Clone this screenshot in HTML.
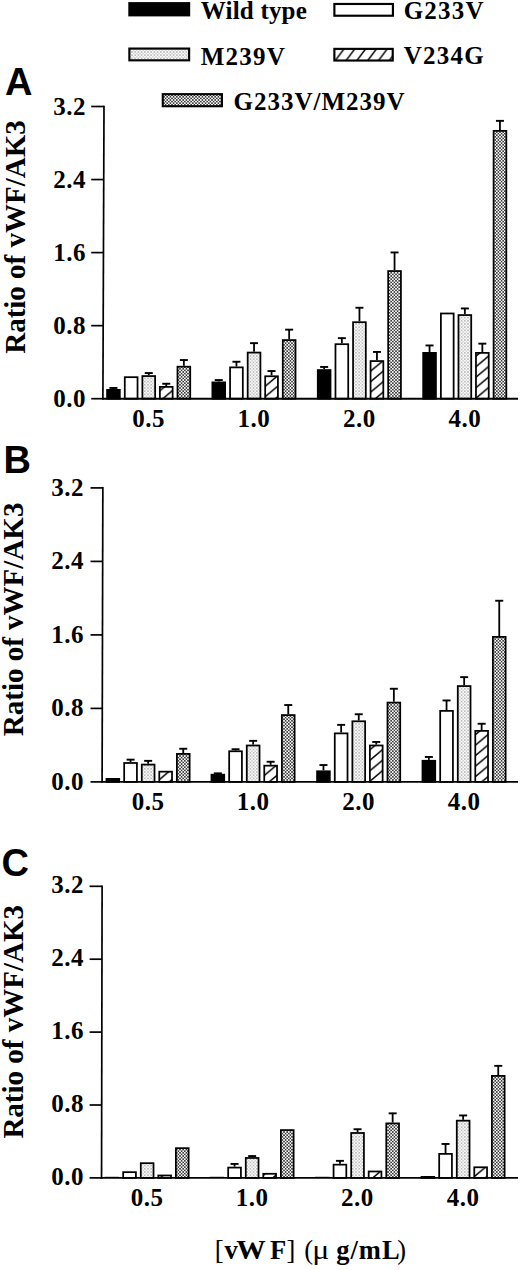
<!DOCTYPE html>
<html><head><meta charset="utf-8"><title>vWF/AK3 ratio chart</title>
<style>html,body{margin:0;padding:0;background:#fff;}body{width:520px;height:1270px;overflow:hidden;}svg{display:block;}</style>
</head><body>
<svg width="520" height="1270" viewBox="0 0 520 1270">
<defs>
<pattern id="dk" width="3.2" height="3.2" patternUnits="userSpaceOnUse">
<rect width="3.2" height="3.2" fill="#fff"/><rect width="1.6" height="1.6" fill="#3c3c3c"/><rect x="1.6" y="1.6" width="1.6" height="1.6" fill="#3c3c3c"/>
</pattern>
<pattern id="lt" width="3.2" height="3.2" patternUnits="userSpaceOnUse">
<rect width="3.2" height="3.2" fill="#fafafa"/><rect width="1.6" height="1.6" fill="#bdbdbd"/><rect x="1.6" y="1.6" width="1.6" height="1.6" fill="#d6d6d6"/>
</pattern>
<pattern id="ht" width="12.5" height="10.5" patternUnits="userSpaceOnUse">
<rect width="12.5" height="10.5" fill="#fff"/><path d="M-12.5,10.5 L12.5,-10.5 M0,10.5 L12.5,0 M0,21 L25,0 M-12.5,21 L12.5,0" stroke="#000" stroke-width="1.5"/>
</pattern>
<pattern id="hl" x="2.7" width="10.8" height="14.4" patternUnits="userSpaceOnUse">
<rect width="10.8" height="14.4" fill="#fff"/><path d="M-10.8,14.4 L10.8,-14.4 M0,14.4 L10.8,0 M0,28.8 L21.6,0 M-10.8,28.8 L10.8,0" stroke="#000" stroke-width="1.5"/>
</pattern>
</defs>
<rect width="520" height="1270" fill="#fff"/>
<rect x="129.375" y="3.175" width="59.75" height="12.149999999999999" fill="#000" stroke="#000" stroke-width="2.15"/>
<rect x="334.375" y="3.975" width="58.55000000000001" height="11.750000000000002" fill="#fff" stroke="#000" stroke-width="2.15"/>
<rect x="129.375" y="48.575" width="59.75" height="11.75" fill="url(#lt)" stroke="#000" stroke-width="2.15"/>
<rect x="334.375" y="48.875" width="58.35000000000002" height="11.649999999999999" fill="url(#hl)" stroke="#000" stroke-width="2.15"/>
<rect x="162.775" y="94.175" width="59.150000000000006" height="12.049999999999997" fill="url(#dk)" stroke="#000" stroke-width="2.15"/>
<text x="200.8" y="18.5" style="font-family:'Liberation Serif',serif;font-weight:bold;font-size:25px;letter-spacing:0.2px">Wild type</text>
<text x="403.7" y="19.2" style="font-family:'Liberation Serif',serif;font-weight:bold;font-size:25px;letter-spacing:1.2px">G233V</text>
<text x="200.8" y="64.6" style="font-family:'Liberation Serif',serif;font-weight:bold;font-size:25px;letter-spacing:1.2px">M239V</text>
<text x="403.8" y="64.0" style="font-family:'Liberation Serif',serif;font-weight:bold;font-size:25px;letter-spacing:1.2px">V234G</text>
<text x="233.5" y="109.6" style="font-family:'Liberation Serif',serif;font-weight:bold;font-size:25px;letter-spacing:1.0px">G233V/M239V</text>
<text x="4.9" y="94.7" style="font-family:'Liberation Sans',sans-serif;font-weight:bold;font-size:38px">A</text>
<text transform="translate(24.9,237) rotate(-90)" text-anchor="middle" style="font-family:'Liberation Serif',serif;font-weight:bold;font-size:29px">Ratio of vWF/AK3</text>
<line x1="113.45" y1="387.50" x2="113.45" y2="389.00" stroke="#000" stroke-width="1.8"/>
<line x1="109.45" y1="387.95" x2="117.45" y2="387.95" stroke="#000" stroke-width="1.9"/>
<rect x="107.08" y="389.88" width="12.75" height="8.82" fill="#000" stroke="#000" stroke-width="1.75"/>
<rect x="124.78" y="377.18" width="12.75" height="21.52" fill="#fff" stroke="#000" stroke-width="1.75"/>
<line x1="148.75" y1="372.60" x2="148.75" y2="375.20" stroke="#000" stroke-width="1.8"/>
<line x1="144.75" y1="373.05" x2="152.75" y2="373.05" stroke="#000" stroke-width="1.9"/>
<rect x="142.38" y="376.07" width="12.75" height="22.62" fill="url(#lt)" stroke="#000" stroke-width="1.75"/>
<line x1="166.25" y1="383.30" x2="166.25" y2="386.00" stroke="#000" stroke-width="1.8"/>
<line x1="162.25" y1="383.75" x2="170.25" y2="383.75" stroke="#000" stroke-width="1.9"/>
<rect x="159.88" y="386.88" width="12.75" height="11.82" fill="url(#ht)" stroke="#000" stroke-width="1.75"/>
<line x1="183.85" y1="359.60" x2="183.85" y2="365.80" stroke="#000" stroke-width="1.8"/>
<line x1="179.85" y1="360.05" x2="187.85" y2="360.05" stroke="#000" stroke-width="1.9"/>
<rect x="177.48" y="366.68" width="12.75" height="32.02" fill="url(#dk)" stroke="#000" stroke-width="1.75"/>
<line x1="218.75" y1="379.60" x2="218.75" y2="381.50" stroke="#000" stroke-width="1.8"/>
<line x1="214.75" y1="380.05" x2="222.75" y2="380.05" stroke="#000" stroke-width="1.9"/>
<rect x="212.38" y="382.38" width="12.75" height="16.32" fill="#000" stroke="#000" stroke-width="1.75"/>
<line x1="236.45" y1="361.30" x2="236.45" y2="366.50" stroke="#000" stroke-width="1.8"/>
<line x1="232.45" y1="361.75" x2="240.45" y2="361.75" stroke="#000" stroke-width="1.9"/>
<rect x="230.07" y="367.38" width="12.75" height="31.32" fill="#fff" stroke="#000" stroke-width="1.75"/>
<line x1="254.05" y1="342.70" x2="254.05" y2="351.70" stroke="#000" stroke-width="1.8"/>
<line x1="250.05" y1="343.15" x2="258.05" y2="343.15" stroke="#000" stroke-width="1.9"/>
<rect x="247.68" y="352.57" width="12.75" height="46.12" fill="url(#lt)" stroke="#000" stroke-width="1.75"/>
<line x1="271.55" y1="370.60" x2="271.55" y2="375.40" stroke="#000" stroke-width="1.8"/>
<line x1="267.55" y1="371.05" x2="275.55" y2="371.05" stroke="#000" stroke-width="1.9"/>
<rect x="265.18" y="376.27" width="12.75" height="22.43" fill="url(#ht)" stroke="#000" stroke-width="1.75"/>
<line x1="289.15" y1="329.20" x2="289.15" y2="339.20" stroke="#000" stroke-width="1.8"/>
<line x1="285.15" y1="329.65" x2="293.15" y2="329.65" stroke="#000" stroke-width="1.9"/>
<rect x="282.77" y="340.07" width="12.75" height="58.62" fill="url(#dk)" stroke="#000" stroke-width="1.75"/>
<line x1="324.15" y1="366.50" x2="324.15" y2="369.20" stroke="#000" stroke-width="1.8"/>
<line x1="320.15" y1="366.95" x2="328.15" y2="366.95" stroke="#000" stroke-width="1.9"/>
<rect x="317.77" y="370.07" width="12.75" height="28.62" fill="#000" stroke="#000" stroke-width="1.75"/>
<line x1="341.85" y1="337.70" x2="341.85" y2="343.30" stroke="#000" stroke-width="1.8"/>
<line x1="337.85" y1="338.15" x2="345.85" y2="338.15" stroke="#000" stroke-width="1.9"/>
<rect x="335.47" y="344.18" width="12.75" height="54.52" fill="#fff" stroke="#000" stroke-width="1.75"/>
<line x1="359.45" y1="307.30" x2="359.45" y2="321.30" stroke="#000" stroke-width="1.8"/>
<line x1="355.45" y1="307.75" x2="363.45" y2="307.75" stroke="#000" stroke-width="1.9"/>
<rect x="353.07" y="322.18" width="12.75" height="76.52" fill="url(#lt)" stroke="#000" stroke-width="1.75"/>
<line x1="376.95" y1="351.50" x2="376.95" y2="360.20" stroke="#000" stroke-width="1.8"/>
<line x1="372.95" y1="351.95" x2="380.95" y2="351.95" stroke="#000" stroke-width="1.9"/>
<rect x="370.57" y="361.07" width="12.75" height="37.62" fill="url(#ht)" stroke="#000" stroke-width="1.75"/>
<line x1="394.55" y1="252.00" x2="394.55" y2="270.20" stroke="#000" stroke-width="1.8"/>
<line x1="390.55" y1="252.45" x2="398.55" y2="252.45" stroke="#000" stroke-width="1.9"/>
<rect x="388.17" y="271.07" width="12.75" height="127.62" fill="url(#dk)" stroke="#000" stroke-width="1.75"/>
<line x1="429.55" y1="345.00" x2="429.55" y2="352.00" stroke="#000" stroke-width="1.8"/>
<line x1="425.55" y1="345.45" x2="433.55" y2="345.45" stroke="#000" stroke-width="1.9"/>
<rect x="423.18" y="352.88" width="12.75" height="45.82" fill="#000" stroke="#000" stroke-width="1.75"/>
<rect x="440.88" y="313.48" width="12.75" height="85.22" fill="#fff" stroke="#000" stroke-width="1.75"/>
<line x1="464.85" y1="308.00" x2="464.85" y2="314.20" stroke="#000" stroke-width="1.8"/>
<line x1="460.85" y1="308.45" x2="468.85" y2="308.45" stroke="#000" stroke-width="1.9"/>
<rect x="458.48" y="315.07" width="12.75" height="83.62" fill="url(#lt)" stroke="#000" stroke-width="1.75"/>
<line x1="482.35" y1="343.20" x2="482.35" y2="352.00" stroke="#000" stroke-width="1.8"/>
<line x1="478.35" y1="343.65" x2="486.35" y2="343.65" stroke="#000" stroke-width="1.9"/>
<rect x="475.98" y="352.88" width="12.75" height="45.82" fill="url(#ht)" stroke="#000" stroke-width="1.75"/>
<line x1="499.95" y1="120.40" x2="499.95" y2="130.00" stroke="#000" stroke-width="1.8"/>
<line x1="495.95" y1="120.85" x2="503.95" y2="120.85" stroke="#000" stroke-width="1.9"/>
<rect x="493.58" y="130.88" width="12.75" height="267.82" fill="url(#dk)" stroke="#000" stroke-width="1.75"/>
<line x1="104.0" y1="105.7" x2="102.9" y2="399.5" stroke="#000" stroke-width="1.7"/>
<line x1="102.10000000000001" y1="398.7" x2="518" y2="398.7" stroke="#000" stroke-width="1.9"/>
<line x1="91.2" y1="398.70" x2="102.90" y2="398.70" stroke="#000" stroke-width="1.7"/>
<text x="86.1" y="407.00" text-anchor="end" style="font-family:'Liberation Serif',serif;font-weight:bold;font-size:25px;letter-spacing:0.5px">0.0</text>
<line x1="91.2" y1="325.65" x2="103.18" y2="325.65" stroke="#000" stroke-width="1.7"/>
<text x="86.1" y="333.95" text-anchor="end" style="font-family:'Liberation Serif',serif;font-weight:bold;font-size:25px;letter-spacing:0.5px">0.8</text>
<line x1="91.2" y1="252.60" x2="103.45" y2="252.60" stroke="#000" stroke-width="1.7"/>
<text x="86.1" y="260.90" text-anchor="end" style="font-family:'Liberation Serif',serif;font-weight:bold;font-size:25px;letter-spacing:0.5px">1.6</text>
<line x1="91.2" y1="179.55" x2="103.72" y2="179.55" stroke="#000" stroke-width="1.7"/>
<text x="86.1" y="187.85" text-anchor="end" style="font-family:'Liberation Serif',serif;font-weight:bold;font-size:25px;letter-spacing:0.5px">2.4</text>
<line x1="91.2" y1="106.50" x2="104.00" y2="106.50" stroke="#000" stroke-width="1.7"/>
<text x="86.1" y="114.80" text-anchor="end" style="font-family:'Liberation Serif',serif;font-weight:bold;font-size:25px;letter-spacing:0.5px">3.2</text>
<text x="148.65" y="427.3" text-anchor="middle" style="font-family:'Liberation Serif',serif;font-weight:bold;font-size:25px;letter-spacing:0.5px">0.5</text>
<text x="253.95" y="427.3" text-anchor="middle" style="font-family:'Liberation Serif',serif;font-weight:bold;font-size:25px;letter-spacing:0.5px">1.0</text>
<text x="359.35" y="427.3" text-anchor="middle" style="font-family:'Liberation Serif',serif;font-weight:bold;font-size:25px;letter-spacing:0.5px">2.0</text>
<text x="464.75" y="427.3" text-anchor="middle" style="font-family:'Liberation Serif',serif;font-weight:bold;font-size:25px;letter-spacing:0.5px">4.0</text>
<text x="3.4" y="473.2" style="font-family:'Liberation Sans',sans-serif;font-weight:bold;font-size:38px">B</text>
<text transform="translate(23.1,619.4) rotate(-90)" text-anchor="middle" style="font-family:'Liberation Serif',serif;font-weight:bold;font-size:29px">Ratio of vWF/AK3</text>
<rect x="106.47" y="778.88" width="12.75" height="3.02" fill="#000" stroke="#000" stroke-width="1.75"/>
<line x1="130.55" y1="759.20" x2="130.55" y2="762.10" stroke="#000" stroke-width="1.8"/>
<line x1="126.55" y1="759.65" x2="134.55" y2="759.65" stroke="#000" stroke-width="1.9"/>
<rect x="124.17" y="762.98" width="12.75" height="18.92" fill="#fff" stroke="#000" stroke-width="1.75"/>
<line x1="148.15" y1="760.40" x2="148.15" y2="763.70" stroke="#000" stroke-width="1.8"/>
<line x1="144.15" y1="760.85" x2="152.15" y2="760.85" stroke="#000" stroke-width="1.9"/>
<rect x="141.77" y="764.58" width="12.75" height="17.32" fill="url(#lt)" stroke="#000" stroke-width="1.75"/>
<rect x="159.27" y="771.67" width="12.75" height="10.23" fill="url(#ht)" stroke="#000" stroke-width="1.75"/>
<line x1="183.25" y1="748.30" x2="183.25" y2="753.00" stroke="#000" stroke-width="1.8"/>
<line x1="179.25" y1="748.75" x2="187.25" y2="748.75" stroke="#000" stroke-width="1.9"/>
<rect x="176.88" y="753.88" width="12.75" height="28.02" fill="url(#dk)" stroke="#000" stroke-width="1.75"/>
<line x1="217.85" y1="772.90" x2="217.85" y2="773.80" stroke="#000" stroke-width="1.8"/>
<line x1="213.85" y1="773.35" x2="221.85" y2="773.35" stroke="#000" stroke-width="1.9"/>
<rect x="211.47" y="774.67" width="12.75" height="7.23" fill="#000" stroke="#000" stroke-width="1.75"/>
<line x1="235.55" y1="748.80" x2="235.55" y2="750.40" stroke="#000" stroke-width="1.8"/>
<line x1="231.55" y1="749.25" x2="239.55" y2="749.25" stroke="#000" stroke-width="1.9"/>
<rect x="229.17" y="751.27" width="12.75" height="30.62" fill="#fff" stroke="#000" stroke-width="1.75"/>
<line x1="253.15" y1="740.40" x2="253.15" y2="744.60" stroke="#000" stroke-width="1.8"/>
<line x1="249.15" y1="740.85" x2="257.15" y2="740.85" stroke="#000" stroke-width="1.9"/>
<rect x="246.77" y="745.48" width="12.75" height="36.42" fill="url(#lt)" stroke="#000" stroke-width="1.75"/>
<line x1="270.65" y1="761.30" x2="270.65" y2="764.80" stroke="#000" stroke-width="1.8"/>
<line x1="266.65" y1="761.75" x2="274.65" y2="761.75" stroke="#000" stroke-width="1.9"/>
<rect x="264.27" y="765.67" width="12.75" height="16.23" fill="url(#ht)" stroke="#000" stroke-width="1.75"/>
<line x1="288.25" y1="704.60" x2="288.25" y2="714.20" stroke="#000" stroke-width="1.8"/>
<line x1="284.25" y1="705.05" x2="292.25" y2="705.05" stroke="#000" stroke-width="1.9"/>
<rect x="281.88" y="715.08" width="12.75" height="66.82" fill="url(#dk)" stroke="#000" stroke-width="1.75"/>
<line x1="323.45" y1="764.60" x2="323.45" y2="770.40" stroke="#000" stroke-width="1.8"/>
<line x1="319.45" y1="765.05" x2="327.45" y2="765.05" stroke="#000" stroke-width="1.9"/>
<rect x="317.07" y="771.27" width="12.75" height="10.62" fill="#000" stroke="#000" stroke-width="1.75"/>
<line x1="341.15" y1="724.40" x2="341.15" y2="732.50" stroke="#000" stroke-width="1.8"/>
<line x1="337.15" y1="724.85" x2="345.15" y2="724.85" stroke="#000" stroke-width="1.9"/>
<rect x="334.77" y="733.38" width="12.75" height="48.52" fill="#fff" stroke="#000" stroke-width="1.75"/>
<line x1="358.75" y1="713.80" x2="358.75" y2="720.40" stroke="#000" stroke-width="1.8"/>
<line x1="354.75" y1="714.25" x2="362.75" y2="714.25" stroke="#000" stroke-width="1.9"/>
<rect x="352.38" y="721.27" width="12.75" height="60.62" fill="url(#lt)" stroke="#000" stroke-width="1.75"/>
<line x1="376.25" y1="741.50" x2="376.25" y2="744.60" stroke="#000" stroke-width="1.8"/>
<line x1="372.25" y1="741.95" x2="380.25" y2="741.95" stroke="#000" stroke-width="1.9"/>
<rect x="369.88" y="745.48" width="12.75" height="36.42" fill="url(#ht)" stroke="#000" stroke-width="1.75"/>
<line x1="393.85" y1="688.30" x2="393.85" y2="701.70" stroke="#000" stroke-width="1.8"/>
<line x1="389.85" y1="688.75" x2="397.85" y2="688.75" stroke="#000" stroke-width="1.9"/>
<rect x="387.48" y="702.58" width="12.75" height="79.32" fill="url(#dk)" stroke="#000" stroke-width="1.75"/>
<line x1="428.85" y1="756.50" x2="428.85" y2="759.90" stroke="#000" stroke-width="1.8"/>
<line x1="424.85" y1="756.95" x2="432.85" y2="756.95" stroke="#000" stroke-width="1.9"/>
<rect x="422.48" y="760.77" width="12.75" height="21.12" fill="#000" stroke="#000" stroke-width="1.75"/>
<line x1="446.55" y1="700.00" x2="446.55" y2="710.00" stroke="#000" stroke-width="1.8"/>
<line x1="442.55" y1="700.45" x2="450.55" y2="700.45" stroke="#000" stroke-width="1.9"/>
<rect x="440.18" y="710.88" width="12.75" height="71.02" fill="#fff" stroke="#000" stroke-width="1.75"/>
<line x1="464.15" y1="676.70" x2="464.15" y2="685.20" stroke="#000" stroke-width="1.8"/>
<line x1="460.15" y1="677.15" x2="468.15" y2="677.15" stroke="#000" stroke-width="1.9"/>
<rect x="457.78" y="686.08" width="12.75" height="95.82" fill="url(#lt)" stroke="#000" stroke-width="1.75"/>
<line x1="481.65" y1="723.30" x2="481.65" y2="730.00" stroke="#000" stroke-width="1.8"/>
<line x1="477.65" y1="723.75" x2="485.65" y2="723.75" stroke="#000" stroke-width="1.9"/>
<rect x="475.28" y="730.88" width="12.75" height="51.02" fill="url(#ht)" stroke="#000" stroke-width="1.75"/>
<line x1="499.25" y1="600.30" x2="499.25" y2="636.00" stroke="#000" stroke-width="1.8"/>
<line x1="495.25" y1="600.75" x2="503.25" y2="600.75" stroke="#000" stroke-width="1.9"/>
<rect x="492.88" y="636.88" width="12.75" height="145.02" fill="url(#dk)" stroke="#000" stroke-width="1.75"/>
<line x1="102.85" y1="487.09999999999997" x2="102.1" y2="782.6999999999999" stroke="#000" stroke-width="1.7"/>
<line x1="101.3" y1="781.9" x2="518" y2="781.9" stroke="#000" stroke-width="1.9"/>
<line x1="90.5" y1="781.90" x2="102.10" y2="781.90" stroke="#000" stroke-width="1.7"/>
<text x="84.1" y="789.90" text-anchor="end" style="font-family:'Liberation Serif',serif;font-weight:bold;font-size:25px;letter-spacing:0.5px">0.0</text>
<line x1="90.5" y1="708.40" x2="102.29" y2="708.40" stroke="#000" stroke-width="1.7"/>
<text x="84.1" y="716.40" text-anchor="end" style="font-family:'Liberation Serif',serif;font-weight:bold;font-size:25px;letter-spacing:0.5px">0.8</text>
<line x1="90.5" y1="634.90" x2="102.47" y2="634.90" stroke="#000" stroke-width="1.7"/>
<text x="84.1" y="642.90" text-anchor="end" style="font-family:'Liberation Serif',serif;font-weight:bold;font-size:25px;letter-spacing:0.5px">1.6</text>
<line x1="90.5" y1="561.40" x2="102.66" y2="561.40" stroke="#000" stroke-width="1.7"/>
<text x="84.1" y="569.40" text-anchor="end" style="font-family:'Liberation Serif',serif;font-weight:bold;font-size:25px;letter-spacing:0.5px">2.4</text>
<line x1="90.5" y1="487.90" x2="102.85" y2="487.90" stroke="#000" stroke-width="1.7"/>
<text x="84.1" y="495.90" text-anchor="end" style="font-family:'Liberation Serif',serif;font-weight:bold;font-size:25px;letter-spacing:0.5px">3.2</text>
<text x="148.05" y="810" text-anchor="middle" style="font-family:'Liberation Serif',serif;font-weight:bold;font-size:25px;letter-spacing:0.5px">0.5</text>
<text x="253.05" y="810" text-anchor="middle" style="font-family:'Liberation Serif',serif;font-weight:bold;font-size:25px;letter-spacing:0.5px">1.0</text>
<text x="358.65" y="810" text-anchor="middle" style="font-family:'Liberation Serif',serif;font-weight:bold;font-size:25px;letter-spacing:0.5px">2.0</text>
<text x="464.05" y="810" text-anchor="middle" style="font-family:'Liberation Serif',serif;font-weight:bold;font-size:25px;letter-spacing:0.5px">4.0</text>
<text x="1.5" y="876.3" style="font-family:'Liberation Sans',sans-serif;font-weight:bold;font-size:38px">C</text>
<text transform="translate(22.6,1021.8) rotate(-90)" text-anchor="middle" style="font-family:'Liberation Serif',serif;font-weight:bold;font-size:29px">Ratio of vWF/AK3</text>
<rect x="104.60" y="1176.80" width="14.50" height="1.10" fill="#000"/>
<rect x="123.17" y="1172.17" width="12.75" height="5.73" fill="#fff" stroke="#000" stroke-width="1.75"/>
<rect x="140.77" y="1163.17" width="12.75" height="14.73" fill="url(#lt)" stroke="#000" stroke-width="1.75"/>
<rect x="158.27" y="1175.47" width="12.75" height="2.43" fill="url(#ht)" stroke="#000" stroke-width="1.75"/>
<rect x="175.88" y="1148.17" width="12.75" height="29.73" fill="url(#dk)" stroke="#000" stroke-width="1.75"/>
<rect x="209.60" y="1176.80" width="14.50" height="1.10" fill="#000"/>
<line x1="234.55" y1="1163.50" x2="234.55" y2="1166.70" stroke="#000" stroke-width="1.8"/>
<line x1="230.55" y1="1163.95" x2="238.55" y2="1163.95" stroke="#000" stroke-width="1.9"/>
<rect x="228.17" y="1167.58" width="12.75" height="10.33" fill="#fff" stroke="#000" stroke-width="1.75"/>
<line x1="252.15" y1="1155.60" x2="252.15" y2="1157.10" stroke="#000" stroke-width="1.8"/>
<line x1="248.15" y1="1156.05" x2="256.15" y2="1156.05" stroke="#000" stroke-width="1.9"/>
<rect x="245.77" y="1157.97" width="12.75" height="19.93" fill="url(#lt)" stroke="#000" stroke-width="1.75"/>
<rect x="263.27" y="1173.78" width="12.75" height="4.12" fill="url(#ht)" stroke="#000" stroke-width="1.75"/>
<rect x="280.88" y="1130.08" width="12.75" height="47.83" fill="url(#dk)" stroke="#000" stroke-width="1.75"/>
<rect x="315.00" y="1176.80" width="14.50" height="1.10" fill="#000"/>
<line x1="339.95" y1="1160.40" x2="339.95" y2="1163.80" stroke="#000" stroke-width="1.8"/>
<line x1="335.95" y1="1160.85" x2="343.95" y2="1160.85" stroke="#000" stroke-width="1.9"/>
<rect x="333.57" y="1164.67" width="12.75" height="13.23" fill="#fff" stroke="#000" stroke-width="1.75"/>
<line x1="357.55" y1="1128.80" x2="357.55" y2="1132.10" stroke="#000" stroke-width="1.8"/>
<line x1="353.55" y1="1129.25" x2="361.55" y2="1129.25" stroke="#000" stroke-width="1.9"/>
<rect x="351.18" y="1132.97" width="12.75" height="44.93" fill="url(#lt)" stroke="#000" stroke-width="1.75"/>
<rect x="368.68" y="1171.47" width="12.75" height="6.43" fill="url(#ht)" stroke="#000" stroke-width="1.75"/>
<line x1="392.65" y1="1112.90" x2="392.65" y2="1122.50" stroke="#000" stroke-width="1.8"/>
<line x1="388.65" y1="1113.35" x2="396.65" y2="1113.35" stroke="#000" stroke-width="1.9"/>
<rect x="386.27" y="1123.38" width="12.75" height="54.53" fill="url(#dk)" stroke="#000" stroke-width="1.75"/>
<rect x="421.48" y="1176.88" width="12.75" height="1.03" fill="#000" stroke="#000" stroke-width="1.75"/>
<line x1="445.55" y1="1143.50" x2="445.55" y2="1153.00" stroke="#000" stroke-width="1.8"/>
<line x1="441.55" y1="1143.95" x2="449.55" y2="1143.95" stroke="#000" stroke-width="1.9"/>
<rect x="439.18" y="1153.88" width="12.75" height="24.03" fill="#fff" stroke="#000" stroke-width="1.75"/>
<line x1="463.15" y1="1115.00" x2="463.15" y2="1119.80" stroke="#000" stroke-width="1.8"/>
<line x1="459.15" y1="1115.45" x2="467.15" y2="1115.45" stroke="#000" stroke-width="1.9"/>
<rect x="456.78" y="1120.67" width="12.75" height="57.23" fill="url(#lt)" stroke="#000" stroke-width="1.75"/>
<rect x="474.28" y="1167.28" width="12.75" height="10.62" fill="url(#ht)" stroke="#000" stroke-width="1.75"/>
<line x1="498.25" y1="1065.40" x2="498.25" y2="1075.00" stroke="#000" stroke-width="1.8"/>
<line x1="494.25" y1="1065.85" x2="502.25" y2="1065.85" stroke="#000" stroke-width="1.9"/>
<rect x="491.88" y="1075.88" width="12.75" height="102.03" fill="url(#dk)" stroke="#000" stroke-width="1.75"/>
<line x1="102.1" y1="885.5" x2="101.55" y2="1178.7" stroke="#000" stroke-width="1.7"/>
<line x1="100.75" y1="1177.9" x2="518" y2="1177.9" stroke="#000" stroke-width="1.9"/>
<line x1="89.6" y1="1177.90" x2="101.55" y2="1177.90" stroke="#000" stroke-width="1.7"/>
<text x="84.1" y="1185.00" text-anchor="end" style="font-family:'Liberation Serif',serif;font-weight:bold;font-size:25px;letter-spacing:0.5px">0.0</text>
<line x1="89.6" y1="1105.00" x2="101.69" y2="1105.00" stroke="#000" stroke-width="1.7"/>
<text x="84.1" y="1112.10" text-anchor="end" style="font-family:'Liberation Serif',serif;font-weight:bold;font-size:25px;letter-spacing:0.5px">0.8</text>
<line x1="89.6" y1="1032.10" x2="101.82" y2="1032.10" stroke="#000" stroke-width="1.7"/>
<text x="84.1" y="1039.20" text-anchor="end" style="font-family:'Liberation Serif',serif;font-weight:bold;font-size:25px;letter-spacing:0.5px">1.6</text>
<line x1="89.6" y1="959.20" x2="101.96" y2="959.20" stroke="#000" stroke-width="1.7"/>
<text x="84.1" y="966.30" text-anchor="end" style="font-family:'Liberation Serif',serif;font-weight:bold;font-size:25px;letter-spacing:0.5px">2.4</text>
<line x1="89.6" y1="886.30" x2="102.10" y2="886.30" stroke="#000" stroke-width="1.7"/>
<text x="84.1" y="893.40" text-anchor="end" style="font-family:'Liberation Serif',serif;font-weight:bold;font-size:25px;letter-spacing:0.5px">3.2</text>
<text x="147.05" y="1206.3" text-anchor="middle" style="font-family:'Liberation Serif',serif;font-weight:bold;font-size:25px;letter-spacing:0.5px">0.5</text>
<text x="252.05" y="1206.3" text-anchor="middle" style="font-family:'Liberation Serif',serif;font-weight:bold;font-size:25px;letter-spacing:0.5px">1.0</text>
<text x="357.45" y="1206.3" text-anchor="middle" style="font-family:'Liberation Serif',serif;font-weight:bold;font-size:25px;letter-spacing:0.5px">2.0</text>
<text x="463.05" y="1206.3" text-anchor="middle" style="font-family:'Liberation Serif',serif;font-weight:bold;font-size:25px;letter-spacing:0.5px">4.0</text>
<text x="214.74" y="1258.6" style="font-family:'Liberation Serif',serif;font-weight:normal;font-size:26.5px;letter-spacing:0px">[</text>
<text x="224.40" y="1258.6" style="font-family:'Liberation Serif',serif;font-weight:bold;font-size:26.5px;letter-spacing:0px">v</text>
<text transform="translate(236.23,1258.6) scale(1.11,1)" style="font-family:'Liberation Serif',serif;font-weight:bold;font-size:26.5px;letter-spacing:0px">W</text>
<text x="269.98" y="1258.6" style="font-family:'Liberation Serif',serif;font-weight:bold;font-size:26.5px;letter-spacing:0px">F</text>
<text x="286.45" y="1258.6" style="font-family:'Liberation Serif',serif;font-weight:normal;font-size:26.5px;letter-spacing:0px">]</text>
<text x="304.13" y="1258.6" style="font-family:'Liberation Serif',serif;font-weight:normal;font-size:26.5px;letter-spacing:0px">(</text>
<text transform="translate(312.22,1258.6) scale(1.2,1)" style="font-family:'Liberation Serif',serif;font-weight:normal;font-size:26.5px;letter-spacing:0px">μ</text>
<text x="336.21" y="1258.6" style="font-family:'Liberation Serif',serif;font-weight:bold;font-size:26.5px;letter-spacing:1.0px">g/mL</text>
<text x="397.25" y="1258.6" style="font-family:'Liberation Serif',serif;font-weight:normal;font-size:26.5px;letter-spacing:0px">)</text>
</svg>
</body></html>
